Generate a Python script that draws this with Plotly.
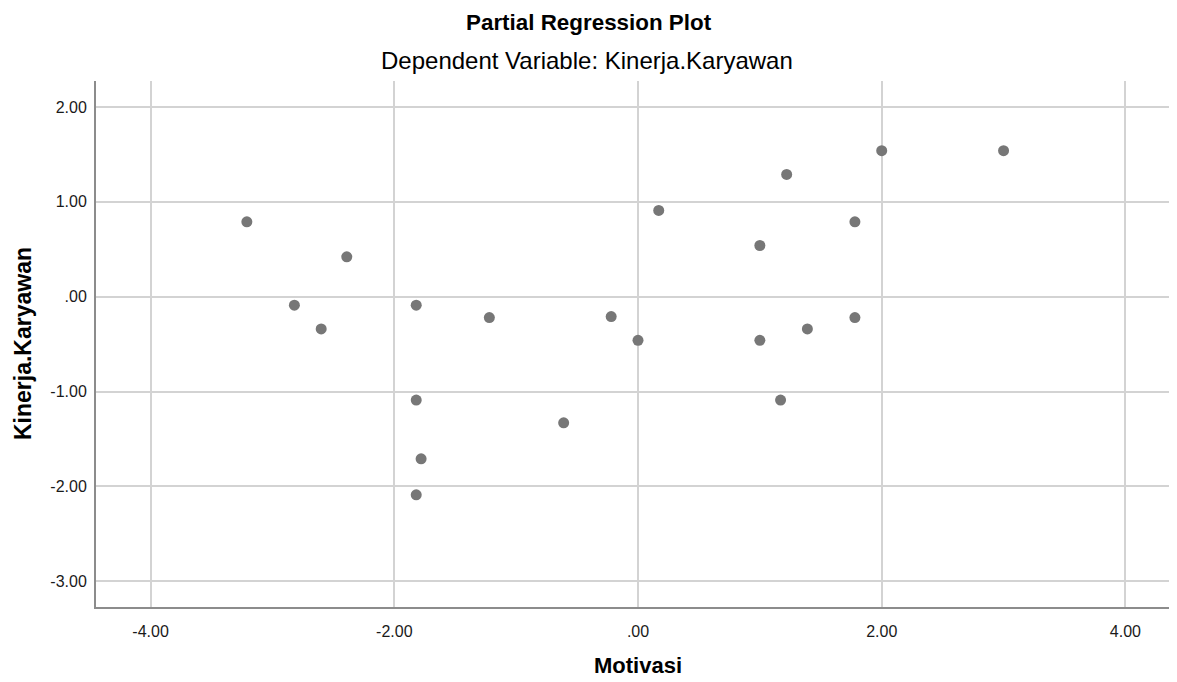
import plotly.graph_objects as go

# Data (partial regression residuals)
motivasi = [-3.21, -2.82, -2.60, -2.39, -1.82, -1.82, -1.78, -1.82, -1.22, -0.61,
            -0.22, 0.00, 0.17, 1.00, 1.00, 1.22, 1.17, 1.39, 1.78, 1.78, 2.00, 3.00]
kinerja = [0.79, -0.09, -0.34, 0.42, -0.09, -1.09, -1.71, -2.09, -0.22, -1.33,
           -0.21, -0.46, 0.91, 0.54, -0.46, 1.29, -1.09, -0.34, 0.79, -0.22, 1.54, 1.54]

x_ticks = [-4, -2, 0, 2, 4]
x_tick_labels = ["-4.00", "-2.00", ".00", "2.00", "4.00"]
y_ticks = [2, 1, 0, -1, -2, -3]
y_tick_labels = ["2.00", "1.00", ".00", "-1.00", "-2.00", "-3.00"]

title = "Partial Regression Plot"
subtitle = "Dependent Variable: Kinerja.Karyawan"
x_title = "Motivasi"
y_title = "Kinerja.Karyawan"

FONT = "Liberation Sans, Arial, sans-serif"

fig = go.Figure()
fig.add_trace(go.Scatter(
    x=motivasi, y=kinerja, mode="markers",
    marker=dict(size=11, color="#777777", line=dict(width=0)),
    hoverinfo="x+y", showlegend=False,
))

axis_common = dict(
    showgrid=True, gridcolor="#d3d3d3", gridwidth=2,
    zeroline=False, showline=True, linecolor="#8c8c8c", linewidth=2,
    ticks="", tickfont=dict(family=FONT, size=16, color="#1a1a1a"),
)

fig.update_layout(
    width=1177, height=682,
    margin=dict(l=88, r=0, t=73, b=83),
    paper_bgcolor="white", plot_bgcolor="white",
    font=dict(family=FONT),
    xaxis=dict(range=[-4.448, 4.489], tickvals=x_ticks, ticktext=x_tick_labels,
               ticklabelstandoff=9, **axis_common),
    yaxis=dict(range=[-3.273, 2.275], tickvals=y_ticks, ticktext=y_tick_labels,
               ticklabelstandoff=4, **axis_common),
    annotations=[
        dict(text=f"<b>{title}</b>", xref="x", yref="paper", x=-0.405, y=1,
             yanchor="middle", yshift=59, showarrow=False,
             font=dict(family=FONT, size=22.4, color="black")),
        dict(text=subtitle, xref="x", yref="paper", x=-0.42, y=1,
             yanchor="middle", yshift=21, showarrow=False,
             font=dict(family=FONT, size=24, color="black")),
        dict(text=f"<b>{x_title}</b>", xref="x", yref="paper", x=0, y=0,
             yanchor="middle", yshift=-58, showarrow=False,
             font=dict(family=FONT, size=22, color="black")),
        dict(text=f"<b>{y_title}</b>", xref="paper", yref="paper", x=0, y=0.5,
             xanchor="center", xshift=-73, textangle=-90, showarrow=False,
             font=dict(family=FONT, size=23, color="black")),
    ],
)

fig.write_html("out.html")
